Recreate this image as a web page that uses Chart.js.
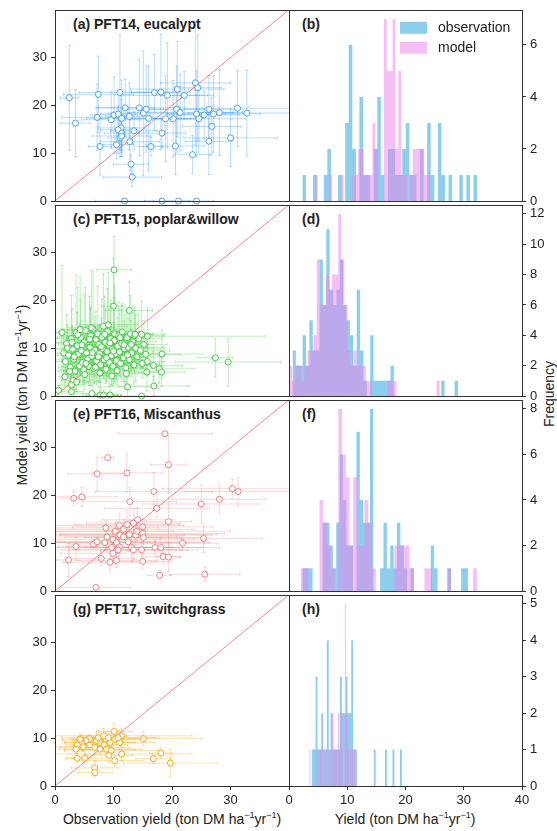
<!DOCTYPE html>
<html>
<head>
<meta charset="utf-8">
<script src="https://cdn.jsdelivr.net/npm/chart.js@4.4.1/dist/chart.umd.min.js"></script>
<style>
body { margin: 0; background: #fff; width: 557px; height: 831px; position: relative; overflow: hidden;
       font-family: "Liberation Sans", Arial, sans-serif; color: #222; }
canvas { position: absolute; }
.lab { position: absolute; font-size: 14px; line-height: 16px; white-space: nowrap; font-weight: bold; }
.ttl { position: absolute; font-size: 14px; line-height: 16px; white-space: nowrap; transform: translate(-50%, -50%); }
.rot { transform: translate(-50%, -50%) rotate(-90deg); }
sup { font-size: 9px; line-height: 0; }
</style>
</head>
<body>
<div class="lab" style="left:73px;top:16px">(a) PFT14, eucalypt</div>
<div class="lab" style="left:302px;top:16px">(b)</div>
<div class="lab" style="left:73px;top:211px">(c) PFT15, poplar&amp;willow</div>
<div class="lab" style="left:302px;top:211px">(d)</div>
<div class="lab" style="left:73px;top:406px">(e) PFT16, Miscanthus</div>
<div class="lab" style="left:302px;top:406px">(f)</div>
<div class="lab" style="left:73px;top:601px">(g) PFT17, switchgrass</div>
<div class="lab" style="left:302px;top:601px">(h)</div>
<div class="ttl" style="left:172px;top:819px">Observation yield (ton DM ha<sup>−1</sup>yr<sup>−1</sup>)</div>
<div class="ttl" style="left:405px;top:819px">Yield (ton DM ha<sup>−1</sup>yr<sup>−1</sup>)</div>
<div class="ttl rot" style="left:22px;top:395px">Model yield (ton DM ha<sup>−1</sup>yr<sup>−1</sup>)</div>
<div class="ttl rot" style="left:549px;top:394px">Frequency</div>
<script>
// ---- tick labels ----
const scatterTicks = [0, 10, 20, 30];
const histXTicks = [0, 10, 20, 30, 40];
const histYTicks = [[0, 2, 4, 6], [0, 2, 4, 6, 8, 10, 12], [0, 2, 4, 6, 8], [0, 1, 2, 3, 4, 5]];
const histYMax = [7.35, 12.6, 8.4, 5.25];
const legendLabels = ['observation', 'model'];

// ---- PFT14 eucalypt: observation, model, and their errors ----
const obsA = [2.45,3.5,7.4,7.2,7.7,9.6,10.1,11.1,10.8,11.4,12.0,11.3,10.8,11.4,11.1,11.4,10.5,12.8,12.7,13.0,
  13.2,13.5,14.4,15.1,15.6,16.0,16.4,17.0,18.1,18.3,18.9,19.2,20.2,20.6,20.9,20.8,21.4,22.1,23.5,24.0,
  24.4,24.2,24.6,25.5,26.3,26.3,26.8,27.1,28.1,30.0,31.2,32.8,11.9,18.3,21.1,24.2];
const modA = [21.6,16.3,22.3,17.5,11.4,17.0,18.0,22.7,18.2,17.3,19.5,15.3,14.9,14.2,13.2,13.6,11.8,12.4,17.7,7.7,
  5.0,14.7,19.5,18.4,19.2,17.3,11.4,22.7,22.8,14.2,17.2,22.1,17.2,11.5,23.4,19.2,18.5,22.1,9.7,24.7,
  23.7,18.2,17.2,18.0,12.5,19.2,15.6,18.2,18.5,13.2,19.4,18.4,0,0,0,0];
const obsErrA = [1.5,2.5,6,6,2,5,4,7,3,6,5,4,3,3,2,5,3,5,4,3,5,4,7,6,3,8,2,4,5,4,6,8,3,5,8,6,9,4,3,6,
  4,5,8,6,4,5,5,8,4,8,9,10,5,3,2,3];
const modErrA = [11,7,8,7,6,6,8,12,5,8,6,6,5,4,4,3,3,6,7,2,2,4,10,13,9,11,2,8,12,3,9,11,8,6,10,9,8,5,4,13,
  11,9,7,5,7,7,6,8,9,6,8,9,0,0,0,0];

// ---- PFT15 poplar&willow ----
const obsC = [1.2,1.5,1.8,1.7,2.0,2.3,2.6,2.8,3.0,3.2,3.4,3.6,3.8,4.0,4.2,4.4,4.5,4.7,4.9,5.0,
  5.2,5.4,5.6,5.8,6.0,6.1,6.3,6.5,6.6,6.8,7.0,7.1,7.3,7.5,7.6,7.8,8.0,8.1,8.3,8.4,
  8.6,8.7,8.9,9.0,9.2,9.3,9.5,9.6,9.8,9.9,10.1,10.2,10.4,10.5,10.7,10.9,11.0,11.2,11.4,11.5,
  11.7,11.9,12.1,12.3,12.5,12.7,12.9,13.1,13.3,13.5,13.8,14.0,14.3,14.6,14.9,15.2,15.5,15.8,
  2.1,2.9,3.3,3.9,4.6,5.3,5.9,6.4,6.9,7.4,7.9,8.5,8.8,9.4,10.0,10.6,11.1,11.8,12.4,13.0,
  13.6,4.3,6.2,9.1,7.7,5.1,3.1,2.5,12.2,9.7,
  10.1,10.0,12.7,27.4,29.6,18.3,16.9,12.4,14.8,6.3,2.8,0.6,15.8,14.8,13.7,16.8,17.8,18.2,15.7,2.8,
  3.7,7.7,8.3,9.4];
const modC = [13.3,9.0,7.2,4.0,11.0,8.5,6.0,12.0,9.8,7.7,5.2,13.3,10.5,8.8,6.3,12.2,9.5,7.0,5.5,11.3,
  13.7,9.0,7.8,6.2,10.2,12.6,8.3,14.0,5.8,9.6,11.8,7.3,13.0,10.8,8.9,6.5,12.3,9.9,14.6,7.6,
  11.2,5.6,9.3,13.5,10.6,7.0,12.0,8.4,9.8,6.2,11.6,13.0,8.8,7.4,10.4,12.6,9.2,6.8,11.0,13.4,
  8.0,9.9,5.9,12.2,10.2,7.6,13.0,9.0,11.4,6.5,10.0,8.2,12.0,9.5,6.8,10.8,8.7,7.2,
  10.0,11.2,8.2,12.8,10.7,6.8,11.9,9.1,6.0,8.2,10.3,12.9,8.0,11.1,9.4,5.3,12.2,10.7,8.6,10.8,
  12.6,13.9,14.3,14.9,4.8,4.5,3.3,5.2,4.7,4.2,
  26.4,18.8,17.9,8.0,7.1,8.8,2.1,1.9,0,0.5,0.9,1.2,12.5,12.9,12.9,6.4,5.7,5.0,5.0,2.3,
  2.9,0.2,0.2,0.2];
const obsErrC = [1,2,1.5,1,2,3,2,2.5,3,4,2,3,2,4,3,4,3,2,4,5,3,4,3,2,4,5,3,4,4,5,
  3,6,4,5,3,4,6,3,4,5,4,3,6,5,4,3,5,4,3,5,4,6,3,4,5,4,3,5,4,3,
  4,5,3,4,6,3,4,5,4,3,5,4,4,5,3,4,6,3,
  2,3,2,3,4,3,4,3,4,5,4,3,5,4,5,3,4,5,4,3,5,3,4,5,3,3,2,2,4,3,
  3,2,4,3,9,7,6,5,8,3,2,1,20,4,3,5,6,4,3,2,2,3,3,2];
const modErrC = [14,5,3,2,6,4,3,9,5,6,4,12,7,4,3,8,5,4,3,10,9,6,3,4,8,6,5,12,3,7,
  6,5,10,4,6,5,8,5,11,4,7,3,6,9,4,5,8,6,4,4,9,10,5,4,6,7,5,3,8,6,
  5,7,4,5,6,3,8,5,6,4,7,3,5,4,3,5,4,3,
  5,7,4,10,5,3,9,4,3,5,6,8,5,7,6,3,6,5,4,5,6,11,12,11,2,2,2,3,3,2,
  7,10,6,4,5,5,2,2,0.5,1,1,1,6,7,5,3,3,3,4,2,2,1,1,1];

// ---- PFT16 Miscanthus ----
const obsE = [18.8,9.0,7.2,12.3,19.4,3.2,4.6,12.8,16.9,17.4,19.4,25.0,28.1,30.3,31.3,25.4,21.8,17.1,18.1,18.5,
  19.4,17.9,25.6,7.0,2.3,3.6,6.6,7.2,7.9,9.4,10.5,8.7,10.3,11.0,11.7,12.3,14.1,15.0,15.0,15.1,
  13.8,12.7,11.1,8.9,9.9,10.5,9.7,11.0,12.5,13.1,13.4,14.8,15.0,9.9,11.7,14.0,13.4,8.5,10.8];
const modE = [32.9,27.9,24.5,24.7,26.4,19.4,19.7,18.7,20.8,17.3,14.5,18.2,19.2,21.4,20.8,11.0,10.0,9.1,9.1,7.2,
  7.1,3.3,3.5,0.75,6.5,9.3,9.8,10.3,6.8,6.0,6.4,13.2,12.5,13.7,12.9,13.9,14.9,13.4,12.0,11.2,
  11.7,11.8,11.7,11.3,10.8,10.1,9.1,9.2,10.3,9.1,8.6,8.6,6.2,7.9,11.3,12.5,14.2,10.1,8.6];
const obsErrE = [8,1,5,6,3,2,6,8,10,9,4,10,8,12,9,10,6,11,7,3,2,2,6,6,2,3,4,10,6,8,
  7,9,10,11,12,9,6,12,14,10,13,15,11,12,14,16,10,9,13,8,11,7,5,9,10,16,8,14,12];
const modErrE = [0.5,0.3,3.5,4,6,1.5,2,3,4,2,5,4,3,2,3,3,1,1.5,2,1.5,3,1,1.5,0.5,3.5,2,1,1,1.5,2,
  1.5,1.5,2,2.5,2,3,2.5,1.5,2,1.5,2,3,2,2,2,3,2,2,2,3,2,1.5,1.5,2,2,2,3,1.5,2];

// ---- PFT17 switchgrass ----
const obsG = [10.1,15.1,11.4,10.2,11.1,9.4,8.7,7.7,7.1,5.9,5.3,4.6,3.8,4.8,5.9,6.8,7.7,8.4,8.8,9.6,
  3.6,3.8,5.1,6.8,6.8,9.2,10.2,11.4,16.8,18.1,19.7,7.4,8.3,9.1,10.8,4.3];
const modG = [11.4,9.9,10.5,9.7,9.1,9.1,9.8,9.1,9.5,9.9,9.5,9.1,8.6,8.2,8.6,8.1,7.7,8.6,7.7,7.4,
  7.7,5.8,5.8,3.8,2.8,6.4,5.3,6.7,5.7,6.9,4.8,10.1,10.5,10.1,10.1,9.8];
const obsErrG = [3,10,12,5,6,4,5,6,4,3,4,3,2,5,3,6,7,4,5,8,2,2,3,4,3,4,5,12,3,2,8,3,4,8,7,3];
const modErrG = [1.7,1.5,1.5,1,1.5,1,1.5,1,1.5,1,1,1.5,1,1,1,1.5,1,1.5,1,1.5,1,1,1,1.5,1,1.5,1,1.5,1,1,3,1.5,1.5,1,1.5,1];

// ---- histograms: counts per bin (50 bins each), bin start and width ----
const histObsB = [1,1,0,0,1,0,0,1,2,0, 0,1,0,3,6,2,0,4,1,1, 0,2,4,1,0,2,2,1,1,2, 3,1,1,0,2,0,3,1,0,3, 1,0,1,0,0,1,0,1,0,1];
const histModB = [3,0,0,0,0,0,0,0,0,0, 1,0,0,0,0,1,0,0,0,1, 0,0,0,1,1,2,2,1,1,1, 3,2,0,0,7,5,5,7,2,5, 1,1,0,1,2,2,2,2,1,1];
const histObsD = [1,3,2,2,4,2,5,3,3,9, 6,11,7,6,7,9,6,5,4,2, 7,3,1,0,4,1,1,1,1,1, 2,0,0,0,0,0,0,0,0,0, 0,0,0,0,0,1,0,0,0,1];
const histModD = [4,2,1,2,2,1,2,3,3,4, 9,6,6,8,7,8,8,12,9,6, 3,2,3,2,2,2,1,1,0,0, 0,0,0,1,1,1,0,0,0,0, 0,0,0,0,0,0,0,0,0,1];
const histObsF = [1,1,1,1,0,0,0,3,3,2, 1,3,6,4,2,2,0,7,4,3, 3,8,0,0,1,3,1,2,1,3, 2,1,0,1,0,0,0,0,0,2, 1,0,0,0,1,0,0,0,1,1];
const histModF = [1,0,0,1,1,0,0,0,4,3, 2,1,0,8,6,5,2,5,2,2, 4,3,1,0,0,0,0,0,2,2, 2,2,1,0,0,0,1,1,0,0, 0,0,1,0,0,0,0,0,0,1];
const histObsH = [3,0,1,1,3,1,1,2,1,1, 4,1,2,1,1,1,1,3,2,2, 3,2,2,4,1,1,0,0,0,0, 0,0,0,0,0,1,0,0,0,0, 0,1,0,0,0,1,0,0,0,1];
const histModH = [1,0,0,0,0,1,0,0,0,0, 0,1,0,1,0,1,1,1,0,1, 0,1,1,0,1,0,1,2,2,1, 1,1,0,2,2,1,2,2,0,0, 5,2,2,1,0,1,0,1,0,1];
const histObsStart = [2.3, 0.6, 2.3, 3.6];
const histObsWidth = [0.612, 0.58, 0.58, 0.322];
const histModStart = [0, 0, 0.75, 2.8];
const histModWidth = [0.494, 0.528, 0.643, 0.174];

// ---- styles ----
const barColors = ['rgba(30,144,255,0.4)', 'rgba(50,205,50,0.4)', 'rgba(240,110,110,0.35)', 'rgba(255,165,0,0.45)'];
const edgeColors = ['rgba(50,150,245,0.85)', 'rgba(50,200,50,0.9)', 'rgba(240,110,110,0.85)', 'rgba(255,160,0,0.9)'];
const obsFill = 'rgba(120,198,232,0.85)';
const modFill = 'rgba(238,130,238,0.5)';
const lineColor = 'rgba(250,70,70,0.65)';
const rowTops = [6, 201, 396, 591];

const scatterSets = [[obsA, modA, obsErrA, modErrA], [obsC, modC, obsErrC, modErrC],
                     [obsE, modE, obsErrE, modErrE], [obsG, modG, obsErrG, modErrG]];
const histSets = [[histObsB, histModB], [histObsD, histModD], [histObsF, histModF], [histObsH, histModH]];

Chart.defaults.font.family = '"Liberation Sans", Arial, sans-serif';
Chart.defaults.font.size = 13;
Chart.defaults.color = '#222';

const errorBars = {
    id: 'errorBars',
    beforeDatasetsDraw(chart) {
        const ds = chart.data.datasets[0];
        if (!ds.errX) return;
        const ctx = chart.ctx, a = chart.chartArea;
        const xs = chart.scales.x, ys = chart.scales.y;
        ctx.save();
        ctx.beginPath();
        ctx.rect(a.left, a.top, a.width, a.height);
        ctx.clip();
        ctx.strokeStyle = ds.barColor;
        ctx.lineWidth = 0.8;
        ds.data.forEach(function (p, i) {
            const px = xs.getPixelForValue(p.x), py = ys.getPixelForValue(p.y);
            const x0 = xs.getPixelForValue(p.x - ds.errX[i]), x1 = xs.getPixelForValue(p.x + ds.errX[i]);
            const y0 = ys.getPixelForValue(p.y - ds.errY[i]), y1 = ys.getPixelForValue(p.y + ds.errY[i]);
            ctx.beginPath();
            ctx.moveTo(x0, py); ctx.lineTo(x1, py);
            ctx.moveTo(x0, py - 1.5); ctx.lineTo(x0, py + 1.5);
            ctx.moveTo(x1, py - 1.5); ctx.lineTo(x1, py + 1.5);
            if (ds.errY[i] > 0) {
                ctx.moveTo(px, y0); ctx.lineTo(px, y1);
                ctx.moveTo(px - 1.5, y0); ctx.lineTo(px + 1.5, y0);
                ctx.moveTo(px - 1.5, y1); ctx.lineTo(px + 1.5, y1);
            }
            ctx.stroke();
        });
        ctx.restore();
    }
};

const frame = {
    id: 'frame',
    afterDraw(chart) {
        const ctx = chart.ctx, a = chart.chartArea;
        ctx.save();
        ctx.strokeStyle = '#333';
        ctx.lineWidth = 1;
        ctx.strokeRect(Math.round(a.left) + 0.5, Math.round(a.top) + 0.5, Math.round(a.width), Math.round(a.height));
        ctx.restore();
    }
};

const histLegend = {
    id: 'histLegend',
    afterDraw(chart) {
        const ctx = chart.ctx, a = chart.chartArea;
        const fills = [obsFill, modFill];
        ctx.save();
        ctx.font = '14px "Liberation Sans", Arial, sans-serif';
        ctx.textBaseline = 'middle';
        for (let i = 0; i < 2; i++) {
            ctx.fillStyle = fills[i];
            ctx.fillRect(a.left + 111, a.top + 12 + 20 * i, 27, 12);
            ctx.fillStyle = '#222';
            ctx.fillText(legendLabels[i], a.left + 149, a.top + 18 + 20 * i);
        }
        ctx.restore();
    }
};

function addCanvas(left, top, w, h) {
    const c = document.createElement('canvas');
    c.width = w; c.height = h;
    c.style.left = left + 'px'; c.style.top = top + 'px';
    c.style.width = w + 'px'; c.style.height = h + 'px';
    document.body.appendChild(c);
    return c;
}

function steps(start, width, counts) {
    const pts = counts.map((c, k) => ({ x: start + width * k, y: c }));
    pts.push({ x: start + width * counts.length, y: 0 });
    return pts;
}

const gridOpts = { drawOnChartArea: false, drawTicks: true, tickLength: 4, color: '#333', lineWidth: 1 };

for (let r = 0; r < 4; r++) {
    const last = r === 3;
    const xh = last ? 24 : 0;
    const padB = last ? 0 : 16;
    const h = 8 + 195 + (last ? 24 : 16);

    // scatter panel
    const [ox, my, ex, ey] = scatterSets[r];
    const pts = ox.map((v, i) => ({ x: v, y: my[i] }));
    new Chart(addCanvas(0, rowTops[r] - 8, 296, h), {
        type: 'scatter',
        data: {
            datasets: [
                { data: pts, errX: ex, errY: ey, barColor: barColors[r], pointRadius: 3,
                  pointBackgroundColor: '#fff', pointBorderColor: edgeColors[r], pointBorderWidth: 1, clip: false },
                { data: [{ x: 0, y: 0 }, { x: 40, y: 40 }], showLine: true, borderColor: lineColor,
                  borderWidth: 1, pointRadius: 0 }
            ]
        },
        options: {
            animation: false, responsive: false, devicePixelRatio: 1, events: [],
            layout: { padding: { left: 0, right: 7, top: 8, bottom: padB } },
            plugins: { legend: { display: false }, tooltip: { enabled: false } },
            scales: {
                x: { type: 'linear', min: 0, max: 40, display: last,
                     afterBuildTicks: s => { s.ticks = scatterTicks.map(v => ({ value: v })); },
                     afterFit: s => { s.height = xh; },
                     grid: gridOpts, border: { display: false }, ticks: { padding: 3, maxRotation: 0 } },
                y: { type: 'linear', min: 0, max: 40,
                     afterBuildTicks: s => { s.ticks = scatterTicks.map(v => ({ value: v })); },
                     afterFit: s => { s.width = 55; },
                     grid: gridOpts, border: { display: false }, ticks: { padding: 4 } }
            }
        },
        plugins: [errorBars, frame]
    });

    // histogram panel
    const [hObs, hMod] = histSets[r];
    new Chart(addCanvas(277, rowTops[r] - 8, 280, h), {
        type: 'line',
        data: {
            datasets: [
                { label: 'model', data: steps(histModStart[r], histModWidth[r], hMod), stepped: 'after',
                  fill: 'origin', backgroundColor: modFill, borderColor: 'rgba(0,0,0,0)', borderWidth: 1, pointRadius: 0 },
                { label: 'observation', data: steps(histObsStart[r], histObsWidth[r], hObs), stepped: 'after',
                  fill: 'origin', backgroundColor: obsFill, borderColor: 'rgba(0,0,0,0)', borderWidth: 1, pointRadius: 0 }
            ]
        },
        options: {
            animation: false, responsive: false, devicePixelRatio: 1, events: [],
            layout: { padding: { left: 12, right: 0, top: 8, bottom: padB } },
            plugins: { legend: { display: false }, tooltip: { enabled: false } },
            scales: {
                x: { type: 'linear', min: 0, max: 40, display: last,
                     afterBuildTicks: s => { s.ticks = histXTicks.map(v => ({ value: v })); },
                     afterFit: s => { s.height = xh; },
                     grid: gridOpts, border: { display: false }, ticks: { padding: 3, maxRotation: 0 } },
                y: { type: 'linear', min: 0, max: histYMax[r], position: 'right',
                     afterBuildTicks: s => { s.ticks = histYTicks[r].map(v => ({ value: v })); },
                     afterFit: s => { s.width = 35; },
                     grid: gridOpts, border: { display: false }, ticks: { padding: 4 } }
            }
        },
        plugins: r === 0 ? [frame, histLegend] : [frame]
    });
}
</script>
</body>
</html>
